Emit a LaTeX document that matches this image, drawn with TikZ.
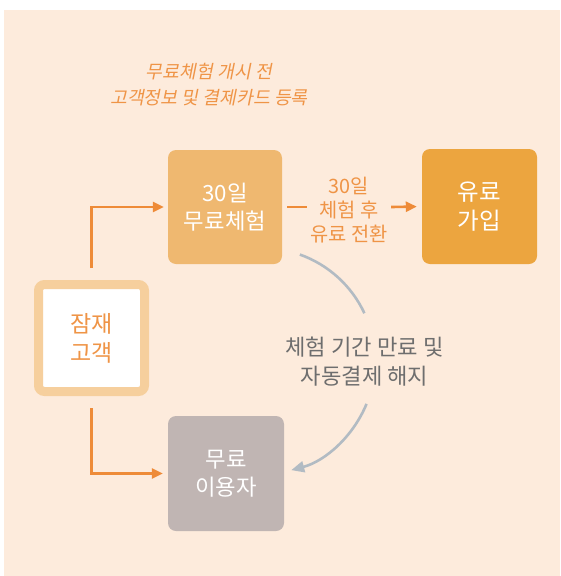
\documentclass[tikz,border=0pt]{standalone}
\usepackage{fontspec}
\setmainfont{Noto Sans CJK KR}
\newfontfamily\slantkr[FakeSlant=0.2]{Noto Sans CJK KR}
\usetikzlibrary{arrows.meta,calc}
\definecolor{bgc}{HTML}{FDEBDC}
\definecolor{trialc}{HTML}{EFB870}
\definecolor{paidc}{HTML}{ECA53F}
\definecolor{prosb}{HTML}{F6CF9D}
\definecolor{orc}{HTML}{EE8B38}
\definecolor{ort}{HTML}{EF9446}
\definecolor{freec}{HTML}{C0B5B3}
\definecolor{arcc}{HTML}{B2BBC3}
\definecolor{grayt}{HTML}{6E6E6E}
\tikzset{
  box/.style={rectangle, rounded corners=8pt, inner sep=0pt, align=center, text=white,
    font=\fontsize{22.3}{28}\selectfont},
  orarrow/.style={draw=orc, line width=2.6pt, -{Triangle[length=11pt,width=10pt]}},
  orline/.style={draw=orc, line width=2.6pt},
  grarrow/.style={draw=arcc, line width=2.6pt, -{Triangle[length=13pt,width=11pt]}},
  grline/.style={draw=arcc, line width=2.6pt},
}
\begin{document}
\begin{tikzpicture}[x=1pt,y=-1pt]
\useasboundingbox (0,0) rectangle (560,576);
\fill[bgc] (4,10) rectangle (560,576);

\node[box, fill=trialc, minimum width=114pt, minimum height=114pt] (trial) at (225,207) {30일\\무료체험};
\node[box, fill=paidc, minimum width=115pt, minimum height=115pt, font=\fontsize{23.5}{29}\selectfont] (paid) at (479.5,206.5) {유료\\가입};
\node[box, fill=white, draw=prosb, line width=9pt, rounded corners=6pt, minimum width=106pt, minimum height=107pt, text=ort, font=\fontsize{23}{29}\selectfont] (prospect) at (91.5,338) {잠재\\고객};
\node[box, fill=freec, minimum width=116pt, minimum height=115pt] (free) at (226,473.5) {무료\\이용자};

\node[align=center, inner sep=0pt, minimum width=84pt, text=ort, font=\fontsize{19.8}{24}\selectfont] (mid) at (349,210) {30일\\체험 후\\유료 전환};
\node[align=center, inner sep=0pt, text=grayt, font=\fontsize{22.2}{29}\selectfont] (expire) at (364.5,362) {체험 기간 만료 및\\자동결제 해지};
\node[align=center, inner sep=0pt, text=ort, font=\slantkr\fontsize{18.3}{26}\selectfont] (note) at (209,85) {무료체험 개시 전\\고객정보 및 결제카드 등록};

\draw[orarrow, shorten >=4pt] ([yshift=12pt]prospect.north) |- (trial.west);
\draw[orarrow, shorten >=5pt] ([yshift=-12pt]prospect.south) |- (free.west);
\draw[orline, shorten <=5pt] (trial.east) -- (trial.east -| mid.west);
\draw[orarrow, shorten >=5pt] (trial.east -| mid.east) -- (paid.west);

\coordinate (ctr) at (262,361);
\draw[grline] ($(ctr)+(70.4:113pt)$) arc[start angle=70.4, end angle=25, radius=113pt];
\draw[grarrow] ($(ctr)+(-22.3:113pt)$) arc[start angle=-22.3, end angle=-75, radius=113pt];
\end{tikzpicture}
\end{document}
